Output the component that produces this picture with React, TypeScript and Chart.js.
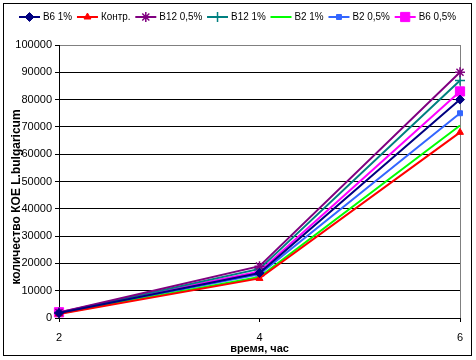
import React, { useEffect, useRef } from 'react';
import { Chart, registerables } from 'chart.js';
import { drawPoint } from 'chart.js/helpers';

Chart.register(...registerables);

// ---- data ----
const hours = [2, 4, 6];
const seriesNames = ['В6 1%', 'Контр.', 'В12 0,5%', 'В12 1%', 'В2 1%', 'В2 0,5%', 'В6 0,5%'];
const b6_1 = [1800, 16500, 80000];
const control = [1500, 14500, 68000];
const b12_05 = [2000, 19000, 90000];
const b12_1 = [1900, 18000, 87000];
const b2_1 = [1600, 15000, 70500];
const b2_05 = [1700, 16000, 75000];
const b6_05 = [2100, 17000, 83000];
const seriesValues = [b6_1, control, b12_05, b12_1, b2_1, b2_05, b6_05];
const xTicks = [2, 4, 6];
const yMax = 100000;
const yStep = 10000;
const xTitle = 'время, час';
const yTitle = 'количество КОЕ L.bulgaricum';

// ---- styles ----
const colors = ['#000080', '#FF0000', '#800080', '#008080', '#00FF00', '#3366FF', '#FF00FF'];
const pointStyles: any[] = ['rectRot', 'triangle', 'star', 'cross', 'circle', 'rect', 'rect'];
const radii = [4.5, 4, 5, 5, 0, 3.5, 6.5];
const pointBorder = [1, 1, 1.5, 1.5, 0, 1, 1];

const legendPlugin = {
  id: 'excelLegend',
  afterDraw(chart: any) {
    const ctx = chart.ctx;
    ctx.save();
    ctx.font = '11px Arial, "Liberation Sans"';
    ctx.textBaseline = 'middle';
    let x = 19;
    const y = 17;
    chart.data.datasets.forEach((ds: any) => {
      ctx.strokeStyle = ds.borderColor;
      ctx.lineWidth = 2;
      ctx.beginPath();
      ctx.moveTo(x, y);
      ctx.lineTo(x + 21, y);
      ctx.stroke();
      if (ds.pointRadius > 0) {
        ctx.fillStyle = ds.borderColor;
        ctx.strokeStyle = ds.borderColor;
        ctx.lineWidth = ds.pointBorderWidth;
        drawPoint(ctx, { pointStyle: ds.pointStyle, radius: ds.pointRadius, rotation: 0, borderWidth: ds.pointBorderWidth } as any, x + 10.5, y);
      }
      const w = ctx.measureText(ds.label).width;
      ctx.fillStyle = '#000';
      ctx.save();
      ctx.translate(x + 24, y);
      ctx.scale(0.9, 1);
      ctx.fillText(ds.label, 0, 0);
      ctx.restore();
      x += 24 + w * 0.9 + 4.8;
    });
    // y axis title
    ctx.save();
    ctx.font = 'bold 12px Arial, "Liberation Sans"';
    ctx.textAlign = 'center';
    ctx.textBaseline = 'middle';
    ctx.fillStyle = '#000';
    ctx.translate(17, 197);
    ctx.rotate(-Math.PI / 2);
    ctx.fillText(yTitle, 0, 0);
    ctx.restore();
    // outer frame
    ctx.strokeStyle = '#000';
    ctx.lineWidth = 1;
    ctx.strokeRect(3.5, 3.5, 468, 352);
    ctx.restore();
  },
};

const plotBorderPlugin = {
  id: 'plotBorder',
  beforeDatasetsDraw(chart: any) {
    const { ctx, chartArea } = chart;
    ctx.save();
    ctx.strokeStyle = '#808080';
    ctx.lineWidth = 1;
    ctx.beginPath();
    const r = Math.round(chartArea.right) + 0.5;
    ctx.moveTo(r, chartArea.top);
    ctx.lineTo(r, chartArea.bottom);
    ctx.stroke();
    ctx.restore();
  },
};

export default function App() {
  const ref = useRef<HTMLCanvasElement | null>(null);
  useEffect(() => {
    if (!ref.current) return;
    const chart = new Chart(ref.current, {
      type: 'line',
      data: {
        datasets: seriesNames.map((name, i) => ({
          label: name,
          data: hours.map((h, j) => ({ x: h, y: seriesValues[i][j] })),
          borderColor: colors[i],
          backgroundColor: colors[i],
          borderWidth: 2,
          pointStyle: pointStyles[i],
          pointRadius: radii[i],
          pointHoverRadius: radii[i],
          pointBorderWidth: pointBorder[i],
          pointBackgroundColor: colors[i],
          pointBorderColor: colors[i],
          tension: 0,
          clip: false as any,
        })),
      },
      options: {
        animation: false,
        responsive: false,
        events: [],
        layout: { padding: { left: 0, top: 45, right: 16, bottom: 0 } },
        plugins: { legend: { display: false }, tooltip: { enabled: false } },
        scales: {
          x: {
            type: 'linear',
            min: 2,
            max: 6,
            afterBuildTicks: (s: any) => { s.ticks = xTicks.map((v) => ({ value: v })); },
            afterFit: (s: any) => { s.height = 42; s.paddingLeft = 0; s.paddingRight = 0; s.paddingTop = 0; s.paddingBottom = 0; },
            ticks: { color: '#000', font: { family: 'Arial, "Liberation Sans"', size: 11 }, padding: 9, maxRotation: 0, callback: (v: any) => String(v) },
            grid: { drawOnChartArea: false, tickLength: 4, tickColor: '#000', color: '#000' },
            border: { color: '#000', width: 1 },
            title: { display: true, text: xTitle, color: '#000', font: { family: 'Arial, "Liberation Sans"', size: 11, weight: 'bold' }, padding: { top: 0, bottom: 4 } },
          },
          y: {
            min: 0,
            max: yMax,
            ticks: { stepSize: yStep, color: '#000', font: { family: 'Arial, "Liberation Sans"', size: 11 }, padding: 3, callback: (v: any) => String(v) },
            afterFit: (s: any) => { s.width = 59; s.paddingLeft = 0; s.paddingRight = 0; s.paddingTop = 0; s.paddingBottom = 0; },
            grid: { tickLength: 4, tickColor: '#000', color: (c: any) => (c.tick && c.tick.value === yMax ? '#808080' : '#000000'), lineWidth: 1 },
            border: { color: '#000', width: 1 },
            title: { display: false },
          },
        },
      } as any,
      plugins: [plotBorderPlugin, legendPlugin],
    });
    return () => chart.destroy();
  }, []);
  return (
    <div style={{ position: 'fixed', left: 0, top: 0, width: 476, height: 360, background: '#fff' }}>
      <canvas ref={ref} width={476} height={360} style={{ display: 'block' }} />
    </div>
  );
}
